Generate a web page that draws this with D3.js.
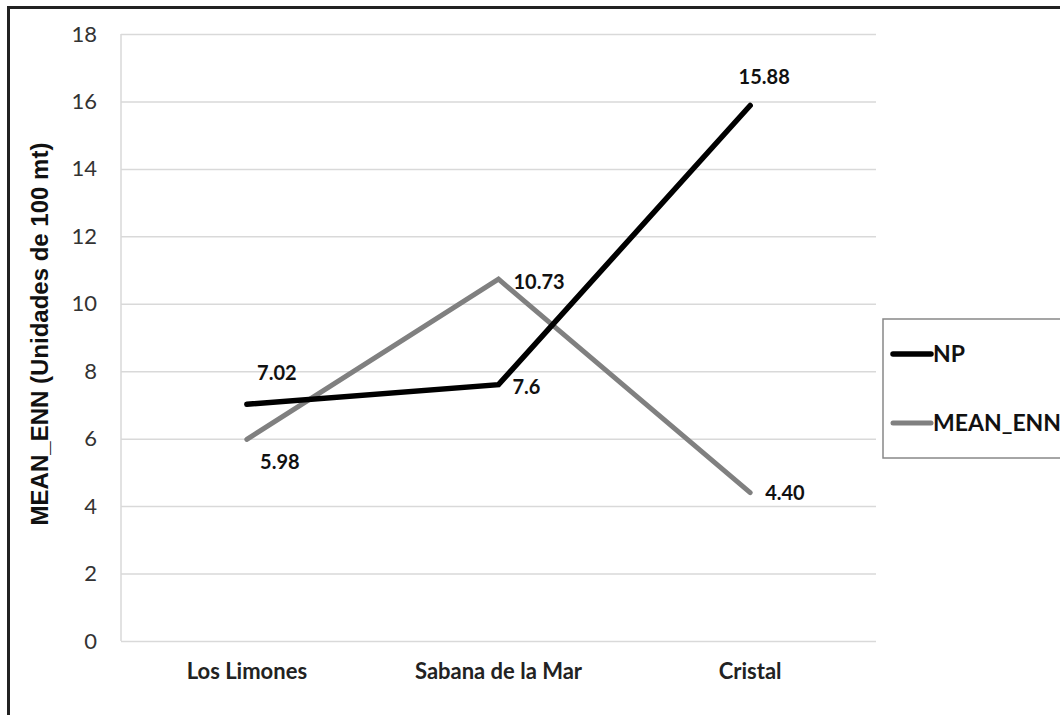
<!DOCTYPE html>
<html>
<head>
<meta charset="utf-8">
<script src="https://cdn.jsdelivr.net/npm/d3@7"></script>
<style>
  body { margin: 0; background: #fff; }
  svg { display: block; }
</style>
</head>
<body>
<div id="chart"></div>
<script>
// chart data
var sites = ["Los Limones", "Sabana de la Mar", "Cristal"];
var npValues = [7.02, 7.6, 15.88];
var meanEnnValues = [5.98, 10.73, 4.40];
var npLabels = ["7.02", "7.6", "15.88"];
var meanEnnLabels = ["5.98", "10.73", "4.40"];
var yTicks = [0, 2, 4, 6, 8, 10, 12, 14, 16, 18];
var seriesNames = ["NP", "MEAN_ENN"];

// label placement next to each point (dx, dy, anchor)
var npLabelPos = [[30, -31, "middle"], [14, 2, "start"], [14, -28, "middle"]];
var meanLabelPos = [[33, 23, "middle"], [15, 3, "start"], [15, 0, "start"]];

var W = 1060, H = 715;
var plot = {left: 121, right: 876, top: 34, bottom: 641};

var svg = d3.select("#chart").append("svg")
    .attr("width", W)
    .attr("height", H);

// outer frame (right and bottom edges fall off the page)
svg.append("rect")
    .attr("x", 8.5).attr("y", 7.5)
    .attr("width", W + 20).attr("height", H + 20)
    .attr("fill", "#fff")
    .attr("stroke", "#222")
    .attr("stroke-width", 3);

var x = d3.scaleBand()
    .domain(sites)
    .range([plot.left, plot.right]);

var y = d3.scaleLinear()
    .domain([0, 18])
    .range([plot.bottom, plot.top]);

function cx(d) { return x(d) + x.bandwidth() / 2; }

// y axis with gridlines
var yAxis = svg.append("g")
    .attr("transform", "translate(" + plot.left + ",0)")
    .call(d3.axisLeft(y)
        .tickValues(yTicks)
        .tickSize(-(plot.right - plot.left))
        .tickPadding(24));
yAxis.select(".domain").remove();
yAxis.selectAll(".tick line")
    .attr("stroke", "#d9d9d9")
    .attr("stroke-width", 1.5);
yAxis.selectAll(".tick text")
    .attr("fill", "#333")
    .style("font-family", "Lato, sans-serif")
    .style("font-size", "22px");

// left axis line
svg.append("line")
    .attr("x1", plot.left).attr("x2", plot.left)
    .attr("y1", plot.top).attr("y2", plot.bottom)
    .attr("stroke", "#d9d9d9")
    .attr("stroke-width", 1.5);

// x axis labels
var xAxis = svg.append("g")
    .attr("transform", "translate(0," + plot.bottom + ")")
    .call(d3.axisBottom(x).tickSize(0).tickPadding(22));
xAxis.select(".domain").remove();
xAxis.selectAll(".tick text")
    .attr("fill", "#222")
    .style("font-family", "Lato, sans-serif")
    .style("font-weight", "bold")
    .style("font-size", "22px");

// y axis title
svg.append("text")
    .attr("transform", "translate(48,334) rotate(-90)")
    .attr("text-anchor", "middle")
    .style("font-family", "'Liberation Sans', Arial, sans-serif")
    .style("font-weight", "bold")
    .style("font-size", "24px")
    .attr("fill", "#111")
    .text("MEAN_ENN (Unidades de 100 mt)");

var line = d3.line()
    .x(function(d) { return cx(d.site); })
    .y(function(d) { return y(d.v); });

function toPoints(vals) {
    return vals.map(function(v, i) { return {site: sites[i], v: v}; });
}

var series = [
    {name: seriesNames[0], vals: npValues, labels: npLabels, pos: npLabelPos, color: "#000", width: 5.5},
    {name: seriesNames[1], vals: meanEnnValues, labels: meanEnnLabels, pos: meanLabelPos, color: "#808080", width: 5}
];

// draw MEAN_ENN first so NP sits on top
series.slice().reverse().forEach(function(s) {
    svg.append("path")
        .datum(toPoints(s.vals))
        .attr("d", line)
        .attr("fill", "none")
        .attr("stroke", s.color)
        .attr("stroke-width", s.width)
        .attr("stroke-linecap", "round");
});

series.forEach(function(s) {
    svg.selectAll(null)
        .data(toPoints(s.vals))
        .enter()
        .append("text")
        .attr("x", function(d, i) { return cx(d.site) + s.pos[i][0]; })
        .attr("y", function(d, i) { return y(d.v) + s.pos[i][1]; })
        .attr("dy", "0.35em")
        .attr("text-anchor", function(d, i) { return s.pos[i][2]; })
        .style("font-family", "Lato, sans-serif")
        .style("font-weight", "bold")
        .style("font-size", "20px")
        .attr("fill", "#111")
        .text(function(d, i) { return s.labels[i]; });
});

// legend
var legend = svg.append("g");
legend.append("rect")
    .attr("x", 883).attr("y", 319)
    .attr("width", 200).attr("height", 139)
    .attr("fill", "#fff")
    .attr("stroke", "#888")
    .attr("stroke-width", 1.5);

var legendY = d3.scalePoint()
    .domain(seriesNames)
    .range([354, 423]);

series.forEach(function(s) {
    legend.append("line")
        .attr("x1", 893).attr("x2", 931)
        .attr("y1", legendY(s.name)).attr("y2", legendY(s.name))
        .attr("stroke", s.color)
        .attr("stroke-width", s.width)
        .attr("stroke-linecap", "round");
    legend.append("text")
        .attr("x", 933)
        .attr("y", legendY(s.name))
        .attr("dy", "0.35em")
        .style("font-family", "Lato, sans-serif")
        .style("font-weight", "bold")
        .style("font-size", "23px")
        .attr("fill", "#111")
        .text(s.name);
});
</script>
</body>
</html>
